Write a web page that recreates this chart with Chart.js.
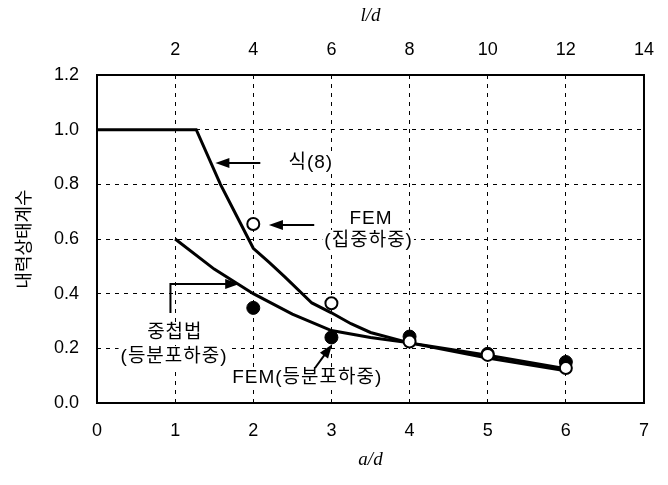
<!DOCTYPE html>
<html>
<head>
<meta charset="utf-8">
<script src="https://cdn.jsdelivr.net/npm/chart.js@4.4.1/dist/chart.umd.min.js"></script>
<style>
  html, body { margin: 0; padding: 0; background: #fff; }
  #wrap { width: 668px; height: 485px; }
</style>
</head>
<body>
<div id="wrap"><canvas id="c" width="668" height="485"></canvas></div>
<script>
// ---- Data ----
const xTicksBottom = [0, 1, 2, 3, 4, 5, 6, 7];
const xTicksTop = [2, 4, 6, 8, 10, 12, 14];
const yTicks = [0.0, 0.2, 0.4, 0.6, 0.8, 1.0, 1.2];

// 식(8) curve
const eq8X = [0, 1.27, 1.58, 1.75, 2.0, 2.2, 2.4, 2.75, 3.0, 3.25, 3.5, 4.0, 5.0, 6.0];
const eq8Y = [1.0, 1.0, 0.80, 0.705, 0.566, 0.515, 0.462, 0.366, 0.33, 0.29, 0.258, 0.22, 0.175, 0.125];

// 중첩법 (등분포하중) curve
const supX = [1.0, 1.5, 2.0, 2.5, 3.0, 3.5, 4.0, 5.0, 6.0];
const supY = [0.60, 0.49, 0.40, 0.325, 0.265, 0.24, 0.22, 0.165, 0.118];

// FEM (집중하중) - open circles
const femConcX = [2, 3, 4, 5, 6];
const femConcY = [0.655, 0.365, 0.225, 0.176, 0.128];

// FEM (등분포하중) - filled circles
const femDistX = [2, 3, 4, 5, 6];
const femDistY = [0.348, 0.24, 0.243, 0.18, 0.15];

const toPts = (xs, ys) => xs.map((x, i) => ({ x: x, y: ys[i] }));

const FONT = "'Liberation Sans', Arial, sans-serif";
const KFONT = "'Liberation Sans', 'Noto Sans CJK KR', sans-serif";

// annotation layout (data coordinates)
const notes = {
  texts: [
    { t: '식(8)', x: 2.45, y: 0.88, align: 'left' },
    { t: 'FEM', x: 3.5, y: 0.673, align: 'center' },
    { t: '(집중하중)', x: 3.47, y: 0.593, align: 'center' },
    { t: '중첩법', x: 0.99, y: 0.256, align: 'center' },
    { t: '(등분포하중)', x: 0.98, y: 0.168, align: 'center' },
    { t: 'FEM(등분포하중)', x: 1.73, y: 0.091, align: 'left' }
  ],
  arrows: [
    [[2.09, 0.878], [1.515, 0.878]],
    [[2.78, 0.651], [2.20, 0.651]],
    [[0.94, 0.329], [0.94, 0.435], [1.82, 0.435]],
    [[2.79, 0.128], [3.01, 0.215]]
  ]
};

const gridMaskPlugin = {
  id: 'gridMask',
  beforeDatasetsDraw(chart) {
    // white boxes behind annotation texts (hide the dashed grid there)
    const ctx = chart.ctx;
    const sx = chart.scales.x, sy = chart.scales.y;
    ctx.save();
    ctx.font = '19px ' + KFONT;
    ctx.letterSpacing = '1px';
    ctx.fillStyle = '#fff';
    notes.texts.forEach(n => {
      const w = ctx.measureText(n.t).width - 1;
      let x0 = sx.getPixelForValue(n.x);
      if (n.align === 'center') x0 -= w / 2;
      const yc = sy.getPixelForValue(n.y);
      ctx.fillRect(x0 - 2, yc - 11, w + 4, 22);
    });
    ctx.letterSpacing = '0px';
    ctx.restore();
  }
};

const framePlugin = {
  id: 'frame',
  afterDatasetsDraw(chart) {
    const ctx = chart.ctx, a = chart.chartArea;
    const sx = chart.scales.x, sy = chart.scales.y;
    ctx.save();
    ctx.strokeStyle = '#000';
    ctx.lineWidth = 2;
    ctx.strokeRect(a.left, a.top, a.right - a.left, a.bottom - a.top);
    // annotation texts
    ctx.fillStyle = '#000';
    ctx.font = '19px ' + KFONT;
    ctx.textBaseline = 'middle';
    notes.texts.forEach(n => {
      const sp = 1;
      ctx.letterSpacing = sp + 'px';
      ctx.textAlign = 'left';
      const w = ctx.measureText(n.t).width - sp;
      let x0 = sx.getPixelForValue(n.x);
      if (n.align === 'center') x0 -= w / 2;
      ctx.fillText(n.t, x0, sy.getPixelForValue(n.y));
    });
    ctx.letterSpacing = '0px';
    // arrows
    ctx.lineWidth = 2;
    notes.arrows.forEach(pts => {
      const p = pts.map(q => [sx.getPixelForValue(q[0]), sy.getPixelForValue(q[1])]);
      const end = p[p.length - 1], prev = p[p.length - 2];
      const ang = Math.atan2(end[1] - prev[1], end[0] - prev[0]);
      const L = 14, W = 5;
      ctx.beginPath();
      ctx.moveTo(p[0][0], p[0][1]);
      for (let i = 1; i < p.length - 1; i++) ctx.lineTo(p[i][0], p[i][1]);
      ctx.lineTo(end[0] - Math.cos(ang) * L * 0.8, end[1] - Math.sin(ang) * L * 0.8);
      ctx.stroke();
      ctx.beginPath();
      ctx.moveTo(end[0], end[1]);
      ctx.lineTo(end[0] - Math.cos(ang) * L - Math.sin(ang) * W, end[1] - Math.sin(ang) * L + Math.cos(ang) * W);
      ctx.lineTo(end[0] - Math.cos(ang) * L + Math.sin(ang) * W, end[1] - Math.sin(ang) * L - Math.cos(ang) * W);
      ctx.closePath();
      ctx.fill();
    });
    ctx.restore();
  }
};

new Chart(document.getElementById('c'), {
  type: 'scatter',
  data: {
    datasets: [
      { label: '식(8)', data: toPts(eq8X, eq8Y), showLine: true, borderColor: '#000', borderWidth: 3, pointRadius: 0, tension: 0, order: 3 },
      { label: '중첩법(등분포하중)', data: toPts(supX, supY), showLine: true, borderColor: '#000', borderWidth: 3, pointRadius: 0, tension: 0, order: 4 },
      { label: 'FEM(등분포하중)', data: toPts(femDistX, femDistY), showLine: false, pointRadius: 6.5, pointBackgroundColor: '#000', pointBorderColor: '#000', pointBorderWidth: 1, order: 2 },
      { label: 'FEM(집중하중)', data: toPts(femConcX, femConcY), showLine: false, pointRadius: 6, pointBackgroundColor: '#fff', pointBorderColor: '#000', pointBorderWidth: 2, order: 1 }
    ]
  },
  options: {
    responsive: false,
    animation: false,
    layout: { padding: { left: 0, right: 12, top: 0, bottom: 0 } },
    plugins: { legend: { display: false }, tooltip: { enabled: false } },
    scales: {
      x: {
        type: 'linear', position: 'bottom', min: 0, max: 7,
        afterBuildTicks: s => { s.ticks = xTicksBottom.map(v => ({ value: v })); },
        afterFit: s => { s.height = 82; },
        grid: {
          color: c => (c.tick && (c.tick.value === 0 || c.tick.value === 7)) ? 'rgba(0,0,0,0)' : '#000',
          lineWidth: 1, drawTicks: false
        },
        border: { display: false, dash: [4, 5] },
        ticks: { color: '#000', font: { family: FONT, size: 18 }, padding: 17 },
        title: { display: true, text: 'a/d', color: '#000', font: { family: "'Liberation Serif', serif", size: 19, style: 'italic' }, padding: { top: 14, bottom: 14 } }
      },
      x2: {
        type: 'linear', position: 'top', min: 0, max: 14,
        afterBuildTicks: s => { s.ticks = xTicksTop.map(v => ({ value: v })); },
        afterFit: s => { s.height = 75; },
        grid: { display: false, drawTicks: false },
        border: { display: false },
        ticks: { color: '#000', font: { family: FONT, size: 18 }, padding: 14 },
        title: { display: true, text: 'l/d', color: '#000', font: { family: "'Liberation Serif', serif", size: 19, style: 'italic' }, padding: { top: 5, bottom: 4 } }
      },
      y: {
        type: 'linear', min: 0, max: 1.2,
        afterBuildTicks: s => { s.ticks = yTicks.map(v => ({ value: v })); },
        afterFit: s => { s.width = 97; },
        grid: {
          color: c => (c.tick && (c.tick.value === 0 || Math.abs(c.tick.value - 1.2) < 1e-9)) ? 'rgba(0,0,0,0)' : '#000',
          lineWidth: 1, drawTicks: false
        },
        border: { display: false, dash: [4, 5] },
        ticks: { color: '#000', font: { family: FONT, size: 18 }, padding: 18, callback: v => v.toFixed(1) },
        title: { display: true, text: '내력상태계수', color: '#000', font: { family: "'Noto Sans CJK KR', sans-serif", size: 18 }, padding: { top: 12, bottom: 4 } }
      }
    }
  },
  plugins: [gridMaskPlugin, framePlugin]
});
</script>
</body>
</html>
